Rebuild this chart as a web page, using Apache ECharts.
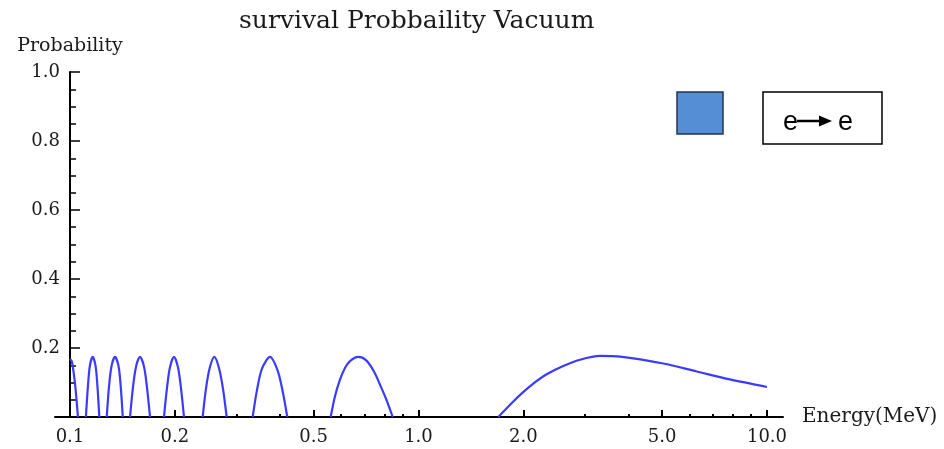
<!DOCTYPE html>
<html>
<head>
<meta charset="utf-8">
<script src="https://cdn.jsdelivr.net/npm/echarts@6/dist/echarts.min.js"></script>
<style>
  html, body { margin: 0; padding: 0; background: #fff; }
  #chart { width: 944px; height: 449px; }
</style>
</head>
<body>
<div id="chart"></div>
<script>
const arch1Energy = [0.1, 0.1013, 0.1034, 0.1054];
const arch1Prob   = [0.168, 0.160, 0.095, 0];
const arch2Energy = [0.1111, 0.1126, 0.1141, 0.1162, 0.1184, 0.1199, 0.1214];
const arch2Prob   = [0, 0.090, 0.150, 0.174, 0.148, 0.088, 0];
const arch3Energy = [0.1275, 0.1294, 0.1316, 0.1346, 0.1378, 0.1398, 0.1417];
const arch3Prob   = [0, 0.088, 0.148, 0.174, 0.148, 0.090, 0];
const arch4Energy = [0.1487, 0.1516, 0.1547, 0.1588, 0.1631, 0.1663, 0.1697];
const arch4Prob   = [0, 0.086, 0.146, 0.174, 0.146, 0.086, 0];
const arch5Energy = [0.1861, 0.1898, 0.1936, 0.1988, 0.2041, 0.2082, 0.2124];
const arch5Prob   = [0, 0.084, 0.144, 0.174, 0.144, 0.084, 0];
const arch6Energy = [0.2403, 0.2456, 0.2514, 0.2595, 0.2676, 0.2748, 0.2816];
const arch6Prob   = [0, 0.082, 0.140, 0.174, 0.142, 0.082, 0];
const arch7Energy = [0.3344, 0.3440, 0.3556, 0.3749, 0.3939, 0.4072, 0.4203];
const arch7Prob   = [0, 0.078, 0.140, 0.174, 0.136, 0.077, 0];
const arch8Energy = [0.5598, 0.5760, 0.5953, 0.6153, 0.6360, 0.6719, 0.7069, 0.7453, 0.7754, 0.8068, 0.8433];
const arch8Prob   = [0, 0.060, 0.108, 0.142, 0.162, 0.174, 0.165, 0.132, 0.094, 0.053, 0];
const arch9Energy = [1.694, 1.871, 1.986, 2.135, 2.333, 2.603, 2.907, 3.317, 3.786, 5.040, 6.285, 7.831, 10.0];
const arch9Prob   = [0, 0.045, 0.070, 0.097, 0.124, 0.148, 0.166, 0.177, 0.175, 0.155, 0.132, 0.109, 0.087];

const majorTicksE = [0.1, 0.2, 0.5, 1, 2, 5, 10];
const minorTicksE = [0.3, 0.4, 0.6, 0.7, 0.8, 0.9, 3, 4, 6, 7, 8, 9];

// x axis is log10(E) shifted so that E = 0.1 sits on zero (the y axis is put there)
const toAxis = e => Math.log10(e) + 1;

const arches = [
  [arch1Energy, arch1Prob], [arch2Energy, arch2Prob], [arch3Energy, arch3Prob],
  [arch4Energy, arch4Prob], [arch5Energy, arch5Prob], [arch6Energy, arch6Prob],
  [arch7Energy, arch7Prob], [arch8Energy, arch8Prob], [arch9Energy, arch9Prob]
];
const curve = [];
arches.forEach(([es, ps]) => {
  es.forEach((e, i) => curve.push([toAxis(e), ps[i]]));
  curve.push([toAxis(es[es.length - 1]), '-']);
});

const serif = 'DejaVu Serif';
const ink = '#1a1a1a';

const chart = echarts.init(document.getElementById('chart'));
chart.setOption({
  animation: false,
  backgroundColor: '#fff',
  title: {
    text: 'survival Probbaility Vacuum',
    left: 234, top: 4,
    textStyle: { fontFamily: serif, fontSize: 25, fontWeight: 'normal', color: ink }
  },
  grid: { left: 55, right: 161, top: 72, bottom: 32, containLabel: false, outerBoundsMode: 'none' },
  xAxis: [{
    type: 'value', min: -0.043, max: 2.046, position: 'bottom',
    name: 'Energy(MeV)', nameLocation: 'end', nameGap: 19,
    nameTextStyle: { fontFamily: serif, fontSize: 20, color: ink, padding: [8, 0, 0, 0] },
    splitLine: { show: false },
    axisLine: { lineStyle: { color: '#000', width: 2 } },
    axisTick: { inside: true, length: 7, lineStyle: { color: '#000', width: 2 },
      customValues: majorTicksE.map(toAxis) },
    axisLabel: { margin: 11, fontFamily: serif, fontSize: 18, color: ink,
      customValues: majorTicksE.map(toAxis),
      formatter: v => Math.pow(10, v - 1).toFixed(1) }
  }, {
    type: 'value', min: -0.043, max: 2.046, position: 'bottom',
    splitLine: { show: false },
    axisLine: { show: false, onZero: false },
    axisLabel: { show: false },
    axisTick: { inside: true, length: 3, lineStyle: { color: '#000', width: 2 },
      customValues: minorTicksE.map(toAxis) }
  }],
  yAxis: {
    type: 'value', min: 0, max: 1, interval: 0.2,
    name: 'Probability', nameLocation: 'end', nameGap: 16,
    nameTextStyle: { fontFamily: serif, fontSize: 19, color: ink },
    splitLine: { show: false },
    axisLine: { onZero: true, lineStyle: { color: '#000', width: 2 } },
    axisTick: { inside: true, length: 10, lineStyle: { color: '#000', width: 1.5 } },
    minorTick: { show: true, splitNumber: 4, length: 6, lineStyle: { color: '#000', width: 1.5 } },
    axisLabel: { margin: -5, fontFamily: serif, fontSize: 18, color: ink,
      formatter: v => v === 0 ? '' : v.toFixed(1) }
  },
  series: [{
    type: 'line',
    data: curve,
    showSymbol: false,
    smooth: 0.3,
    connectNulls: false,
    clip: true,
    lineStyle: { color: '#3b3bff', width: 2.2 }
  }],
  graphic: [
    { type: 'rect', shape: { x: 677, y: 92, width: 46, height: 42 },
      style: { fill: '#558ed5', stroke: '#22354d', lineWidth: 1.5 } },
    { type: 'rect', shape: { x: 763, y: 92, width: 119, height: 52 },
      style: { fill: '#fff', stroke: '#000', lineWidth: 1.5 } },
    { type: 'text', x: 783, y: 123,
      style: { text: 'e', font: '27px "Liberation Sans"', fill: '#000', verticalAlign: 'middle' } },
    { type: 'line', shape: { x1: 797, y1: 121, x2: 822, y2: 121 },
      style: { stroke: '#000', lineWidth: 2.5 } },
    { type: 'polygon', shape: { points: [[819, 115.5], [832, 121], [819, 126.5]] },
      style: { fill: '#000' } },
    { type: 'text', x: 838, y: 123,
      style: { text: 'e', font: '27px "Liberation Sans"', fill: '#000', verticalAlign: 'middle' } }
  ]
});
</script>
</body>
</html>
